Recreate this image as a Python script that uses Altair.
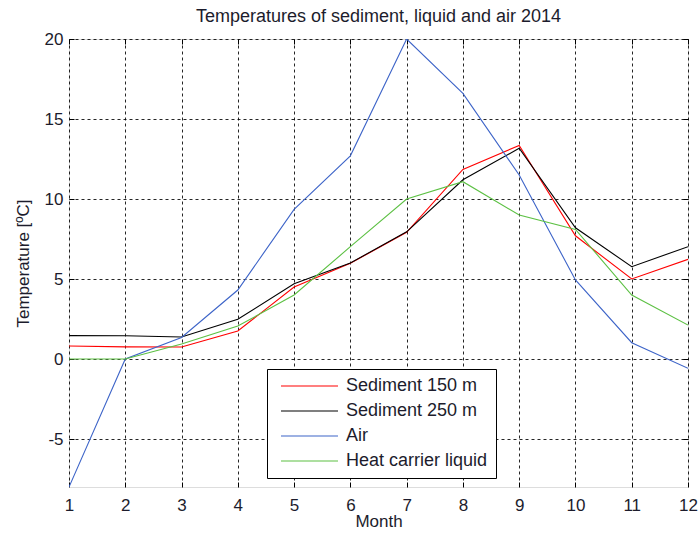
import altair as alt
import pandas as pd

months = list(range(1, 13))
sediment_150 = [0.81, 0.76, 0.75, 1.75, 4.5, 5.98, 7.92, 11.85, 13.35, 7.7, 5.0, 6.23]
sediment_250 = [1.46, 1.45, 1.375, 2.48, 4.7, 6.0, 7.95, 11.2, 13.17, 8.2, 5.77, 7.02]
air = [-8.0, 0.0, 1.35, 4.31, 9.35, 12.7, 20.0, 16.6, 11.5, 4.94, 1.02, -0.58]
liquid = [0.0, 0.0, 0.94, 2.06, 4.0, 7.02, 10.0, 11.08, 9.0, 8.1, 4.0, 2.12]

series_names = ["Sediment 150 m", "Sediment 250 m", "Air", "Heat carrier liquid"]
series_colors = ["#ff0000", "#000000", "#3d64c8", "#5cc043"]
y_ticks = [-5, 0, 5, 10, 15, 20]

rows = []
for name, vals in zip(series_names, [sediment_150, sediment_250, air, liquid]):
    for m, v in zip(months, vals):
        rows.append({"Month": m, "Temperature": v, "Series": name})
df = pd.DataFrame(rows)

FONT = "Liberation Sans"
TXT = "#1c1c2c"

# legend line symbol: a long horizontal stroke, offset to the right of its anchor
legend_symbol = "M-0.4286,0H7.714"

x_scale = alt.Scale(domain=[1, 12], nice=False, zero=False)
y_scale = alt.Scale(domain=[-8, 20], nice=False, zero=False)

common = dict(ticks=True, tickSize=5, tickColor="#000000", tickWidth=1, offset=-5,
              domain=False, labelFont=FONT, titleFont=FONT, labelColor=TXT,
              titleColor=TXT, titleFontWeight="normal", labelFontSize=17,
              titleFontSize=17, labelFlush=False)

main = alt.Chart(df).mark_line(strokeWidth=1.1, clip=True).encode(
    x=alt.X("Month:Q", scale=x_scale,
            axis=alt.Axis(values=months, title="Month", format="d", grid=True,
                          gridDash=[3, 3], gridColor="#000000", gridOpacity=0.85,
                          labelPadding=10, titlePadding=0, orient="bottom", **common)),
    y=alt.Y("Temperature:Q", scale=y_scale,
            axis=alt.Axis(values=y_ticks, title="Temperature [ºC]", grid=True,
                          gridDash=[3, 3], gridColor="#000000", gridOpacity=0.85,
                          labelExpr="toString(datum.value)",
                          labelPadding=6, titlePadding=12, orient="left", **common)),
    color=alt.Color("Series:N", scale=alt.Scale(domain=series_names, range=series_colors),
                    legend=alt.Legend(title=None, orient="none", legendX=198, legendY=330,
                                      symbolType=legend_symbol, symbolSize=196,
                                      symbolStrokeWidth=1.2,
                                      labelFontSize=18, labelFont=FONT, labelColor=TXT,
                                      labelOffset=53, rowPadding=7, padding=8,
                                      strokeColor="#000000", fillColor="#ffffff",
                                      cornerRadius=0, labelLimit=300)),
)

tick_only = dict(ticks=True, tickSize=5, tickColor="#000000", tickWidth=1, offset=-5,
                 domain=False, labels=False, grid=False, title=None)

mirror = alt.Chart(df).mark_line(opacity=0).encode(
    x=alt.X("Month:Q", scale=x_scale, axis=alt.Axis(values=months, orient="top", **tick_only)),
    y=alt.Y("Temperature:Q", scale=y_scale, axis=alt.Axis(values=y_ticks, orient="right", **tick_only)),
    detail="Series:N",
)

chart = alt.layer(main, mirror).resolve_axis(x="independent", y="independent").properties(
    width=619, height=448,
    title=alt.TitleParams("Temperatures of sediment, liquid and air 2014", fontSize=18,
                          font=FONT, color=TXT, fontWeight="normal", offset=4),
    autosize=alt.AutoSizeParams(type="none"),
    padding={"left": 69, "top": 39, "right": 10, "bottom": 48},
).configure_view(stroke="#000000", strokeWidth=1.2).configure(background="#ffffff")

chart.save("out.html", embed_options={"renderer": "svg", "actions": False})
